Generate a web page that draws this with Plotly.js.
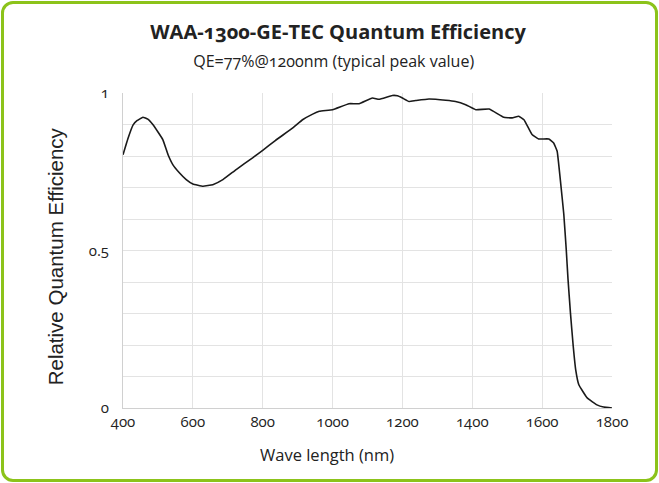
<!DOCTYPE html>
<html>
<head>
<meta charset="utf-8">
<script src="https://cdn.plot.ly/plotly-3.0.1.min.js"></script>
<style>
  html, body { margin: 0; padding: 0; background: #ffffff; }
  #wrap { position: relative; width: 659px; height: 483px; }
  #chart { position: absolute; left: 0; top: 0; width: 659px; height: 483px; }
  #frame { position: absolute; left: 1px; top: 1px; width: 657px; height: 481px; box-sizing: border-box;
           border: 3px solid #8cc31a; border-radius: 12px; pointer-events: none; }
  .main-svg text { font-variant-numeric: oldstyle-nums; font-feature-settings: "onum" 1; }
</style>
</head>
<body>
<div id="wrap">
  <div id="chart"></div>
  <div id="frame"></div>
</div>
<script>
const wavelength = [400, 414, 429, 440, 457, 471, 486, 514, 529, 543, 562, 581, 600, 629, 657, 686, 724, 771, 800, 836, 886, 914, 943, 962, 1000, 1047, 1076, 1114, 1133, 1171, 1186, 1200, 1219, 1238, 1276, 1324, 1352, 1381, 1410, 1448, 1490, 1514, 1533, 1548, 1571, 1590, 1619, 1633, 1643, 1652, 1662, 1669, 1674, 1681, 1689, 1696, 1705, 1729, 1757, 1776, 1800];
const efficiency = [0.804, 0.855, 0.899, 0.912, 0.923, 0.917, 0.899, 0.852, 0.804, 0.772, 0.746, 0.725, 0.711, 0.704, 0.709, 0.725, 0.757, 0.794, 0.818, 0.849, 0.889, 0.915, 0.933, 0.942, 0.947, 0.966, 0.966, 0.984, 0.980, 0.992, 0.991, 0.984, 0.973, 0.976, 0.981, 0.977, 0.973, 0.963, 0.947, 0.949, 0.923, 0.921, 0.926, 0.915, 0.868, 0.854, 0.854, 0.841, 0.815, 0.725, 0.615, 0.503, 0.410, 0.302, 0.196, 0.122, 0.074, 0.032, 0.010, 0.003, 0.000];
const xTicks = [400, 600, 800, 1000, 1200, 1400, 1600, 1800];
const yTicks = [0, 0.5, 1];
const yTickText = ["0", "0.5", "1"];
const titleText = 'WAA-1300-GE-TEC Quantum Efficiency';
const subtitleText = 'QE=77%@1200nm (typical peak value)';
const xTitleText = 'Wave length (nm)';
const yTitleText = 'Relative Quantum Efficiency';

const humanist = "'Open Sans', 'Noto Sans', sans-serif";
const ink = '#222222';

Plotly.newPlot('chart', [{
  x: wavelength,
  y: efficiency,
  type: 'scatter',
  mode: 'lines',
  line: { color: '#1a1a1a', width: 1.6, shape: 'spline', smoothing: 0.3 },
  hoverinfo: 'skip'
}], {
  width: 659,
  height: 483,
  paper_bgcolor: '#ffffff',
  plot_bgcolor: '#ffffff',
  margin: { l: 123, r: 47, t: 93, b: 75 },
  showlegend: false,
  title: {
    text: '<b>' + titleText + '</b>',
    xref: 'container', yref: 'container',
    x: 0.513, xanchor: 'center', y: 0.933, yanchor: 'middle',
    font: { family: humanist, size: 20, color: ink }
  },
  annotations: [
    { text: subtitleText, xref: 'paper', yref: 'paper', x: 0.431, y: 1.1025,
      xanchor: 'center', yanchor: 'middle', showarrow: false,
      font: { family: humanist, size: 16, color: ink } },
    { text: xTitleText, xref: 'paper', yref: 'paper', x: 0.418, y: -0.148,
      xanchor: 'center', yanchor: 'middle', showarrow: false,
      font: { family: humanist, size: 16.5, color: ink } },
    { text: yTitleText, xref: 'paper', yref: 'paper', x: -0.138, y: 0.480,
      xanchor: 'center', yanchor: 'middle', showarrow: false, textangle: -90,
      font: { family: "'Liberation Sans', Arial, sans-serif", size: 20.5, color: ink } }
  ],
  xaxis: {
    range: [400, 1800],
    tickvals: xTicks,
    ticktext: xTicks.map(String),
    showgrid: true, gridcolor: '#e3e3e3', gridwidth: 1,
    showline: true, linecolor: '#d0d0d0', linewidth: 1, mirror: false,
    zeroline: false, ticks: '',
    ticklabelstandoff: 0,
    tickfont: { family: humanist, size: 15, color: ink }
  },
  yaxis: {
    range: [0, 1],
    tickvals: yTicks,
    ticktext: yTickText,
    showgrid: true, gridcolor: '#e3e3e3', gridwidth: 1,
    minor: { dtick: 0.1, tick0: 0, showgrid: true, gridcolor: '#e3e3e3', gridwidth: 1, ticks: '' },
    showline: true, linecolor: '#d0d0d0', linewidth: 1,
    zeroline: false, ticks: '',
    ticklabelstandoff: 10,
    tickfont: { family: humanist, size: 15, color: ink }
  }
}, { displayModeBar: false, staticPlot: true });
</script>
</body>
</html>
